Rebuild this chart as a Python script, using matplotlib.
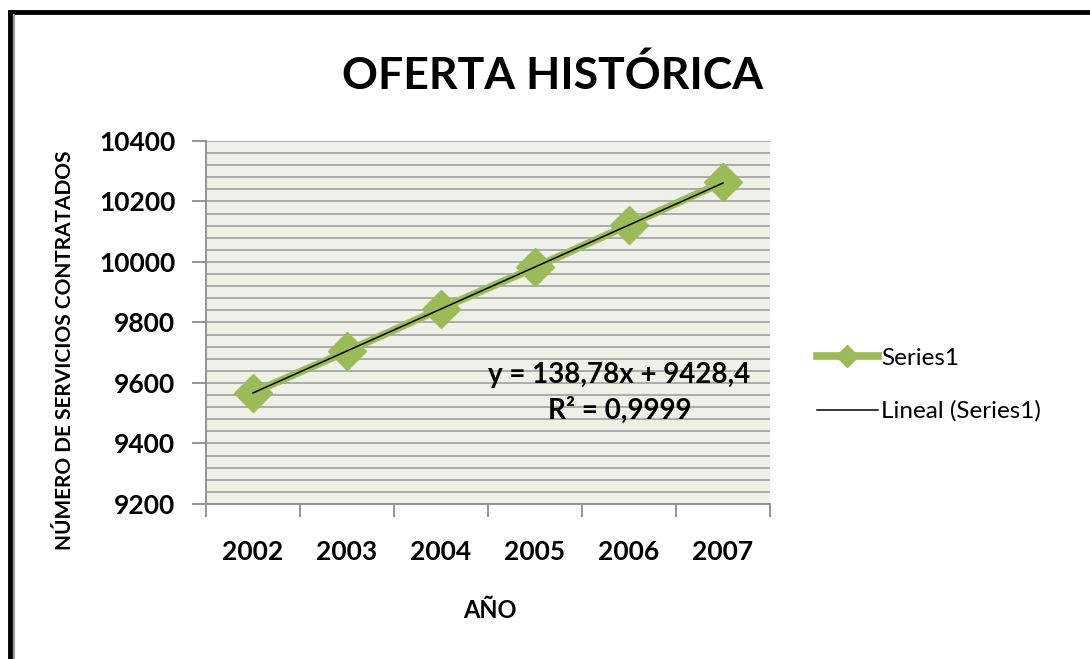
import numpy as np
import matplotlib.pyplot as plt
from matplotlib.lines import Line2D
from matplotlib.ticker import MultipleLocator

# data
years = ['2002', '2003', '2004', '2005', '2006', '2007']
servicios = [9568, 9705, 9846, 9982, 10123, 10264]
slope, intercept = 138.78, 9428.4
r2 = 0.9999

green = '#9BBB59'
plt.rcParams['font.family'] = ['Lato', 'DejaVu Sans']

fig = plt.figure(figsize=(10.9, 6.59), dpi=100)
ax = fig.add_axes([206 / 1090, 1 - 504 / 659, 564 / 1090, 363 / 659])
ax.set_facecolor('#EFF1E9')

x = np.arange(1, len(years) + 1)
ax.plot(x, servicios, color=green, lw=5.5, marker='D', ms=19,
        solid_joinstyle='round', zorder=3, label='Series1')
ax.plot(x, slope * x + intercept, color='black', lw=1.1, zorder=4,
        label='Lineal (Series1)')

ax.set_xlim(0.5, 6.5)
ax.set_ylim(9200, 10400)
ax.yaxis.set_major_locator(MultipleLocator(200))
ax.yaxis.set_minor_locator(MultipleLocator(40))
ax.grid(axis='y', which='both', color='#A6A6A6', lw=1.3)
ax.set_axisbelow(True)

# category ticks sit between the years
ax.set_xticks(np.arange(0.5, 7, 1))
ax.set_xticklabels([])
ax.set_xticks(x, minor=True)
ax.set_xticklabels(years, minor=True, fontsize=19, fontweight='bold')
ax.tick_params(axis='x', which='major', length=9, color='#8C8C8C', width=1.3)
ax.tick_params(axis='x', which='minor', length=0, pad=26)
ax.tick_params(axis='y', which='major', length=10, color='#8C8C8C', width=1.3,
               labelsize=19, pad=12)
ax.tick_params(axis='y', which='minor', length=0)
for lbl in ax.get_yticklabels():
    lbl.set_fontweight('bold')

for side in ['top', 'right']:
    ax.spines[side].set_visible(False)
for side in ['left', 'bottom']:
    ax.spines[side].set_color('#8C8C8C')
    ax.spines[side].set_linewidth(1.3)

ax.text(4.9, 9626, 'y = 138,78x + 9428,4', ha='center', va='center',
        fontsize=20, fontweight='bold')
ax.text(4.9, 9511, 'R² = 0,9999', ha='center', va='center',
        fontsize=20, fontweight='bold')

fig.text(553 / 1090, 1 - 75 / 659, 'OFERTA HISTÓRICA', ha='center', va='center',
         fontsize=32, fontweight='bold')
fig.text(65 / 1090, 1 - 350 / 659, 'NÚMERO DE SERVICIOS CONTRATADOS', rotation=90,
         ha='center', va='center', fontsize=15, fontweight='bold')
fig.text(490 / 1090, 1 - 611 / 659, 'AÑO', ha='center', va='center',
         fontsize=17, fontweight='bold')

handles = [Line2D([], [], color=green, lw=5.5, marker='D', ms=11),
           Line2D([], [], color='black', lw=1.1)]
fig.legend(handles, ['Series1', 'Lineal (Series1)'], loc='center left',
           bbox_to_anchor=(795 / 1090, 1 - 385 / 659), frameon=False,
           fontsize=17.5, handlelength=2.5, handletextpad=0.15, labelspacing=1.3)

# frame of the chart object (only left and top edges are in view)
fig.add_artist(Line2D([10 / 1090, 10 / 1090], [0, 1 - 12 / 659], color='black',
                      lw=3.5, transform=fig.transFigure))
fig.add_artist(Line2D([10 / 1090, 1], [1 - 12 / 659, 1 - 12 / 659], color='black',
                      lw=3.5, transform=fig.transFigure))
fig.add_artist(Line2D([13.5 / 1090, 13.5 / 1090], [0, 1 - 15 / 659], color='#9A9A9A',
                      lw=1.5, transform=fig.transFigure))

fig.savefig('out.png', dpi=100)
